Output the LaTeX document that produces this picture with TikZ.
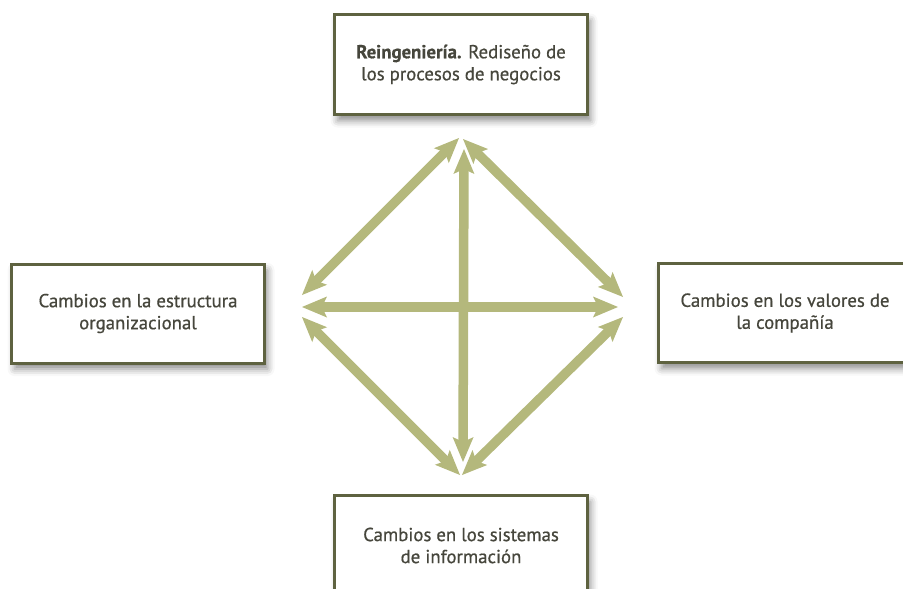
\documentclass[tikz,border=0pt]{standalone}
\usepackage{fontspec}
\setmainfont{PT Sans}
\newfontfamily\boxfont{PT Sans}[FakeBold=0.6]
\usetikzlibrary{arrows.meta,shadows.blur}
\definecolor{boxline}{RGB}{94,98,64}
\definecolor{arrowfill}{RGB}{180,184,124}
\definecolor{labeltext}{RGB}{70,70,60}
\begin{document}
\begin{tikzpicture}[
    x=1pt,y=-1pt,
    change/.style={
        draw=boxline,
        line width=3pt,
        fill=white,
        minimum width=253pt,
        minimum height=99pt,
        align=center,
        text=labeltext,
        font=\boxfont\fontsize{18.8}{22}\selectfont,
        blur shadow={shadow xshift=3pt,shadow yshift=-6pt,shadow blur radius=7pt,shadow opacity=45}
    },
    link/.style={
        {Stealth[length=25pt,width=21pt,inset=5pt,line width=0pt]}-{Stealth[length=25pt,width=21pt,inset=5pt,line width=0pt]},
        draw=arrowfill,
        line width=9.5pt
    }
    ]
\useasboundingbox (0,0) rectangle (903,589);

\node[change,minimum height=100pt] (reing) at (461,64.5) {\textbf{Reingeniería.} Rediseño de\\los procesos de negocios};
\node[change] (estruct) at (138,313.5) {Cambios en la estructura\\organizacional};
\node[change] (valores) at (785,313) {Cambios en los valores de\\la compañía};
\node[change,minimum height=100pt] (sistemas) at (461,545.5) {Cambios en los sistemas\\de información};

% arrow ends
\coordinate (t1) at (459,138);
\coordinate (t2) at (464,149);
\coordinate (t3) at (463,139);
\coordinate (l1) at (302,295);
\coordinate (l2) at (302,307);
\coordinate (l3) at (302,317);
\coordinate (r1) at (623,297);
\coordinate (r2) at (618,307);
\coordinate (r3) at (623,317);
\coordinate (b1) at (460,475);
\coordinate (b2) at (463,462);
\coordinate (b3) at (462,475);

\draw[link] (l1) -- (t1);
\draw[link] (t3) -- (r1);
\draw[link] (t2) -- (b2);
\draw[link] (l2) -- (r2);
\draw[link] (l3) -- (b1);
\draw[link] (r3) -- (b3);
\end{tikzpicture}
\end{document}
